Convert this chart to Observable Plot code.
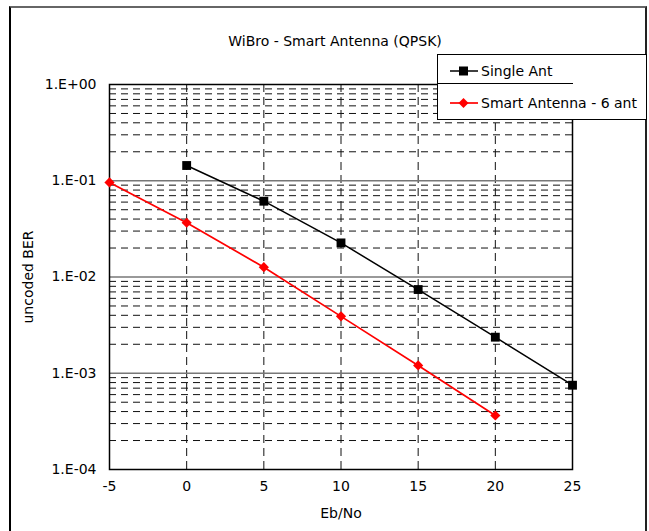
<!DOCTYPE html>
<html>
<head>
<meta charset="utf-8">
<script src="https://cdn.jsdelivr.net/npm/d3@7"></script>
<script src="https://cdn.jsdelivr.net/npm/@observablehq/plot@0.6"></script>
<style>
  html, body { margin: 0; padding: 0; background: #fff; }
  #wrap { position: relative; width: 649px; height: 531px; overflow: hidden; font-family: "DejaVu Sans", sans-serif; }
  #frame { position: absolute; left: 9px; top: 6px; width: 638px; height: 560px; border-left: 2px solid #000; border-right: 2px solid #222; border-top: 2px solid #666; box-sizing: border-box; pointer-events: none; }
  #title { position: absolute; left: 0; width: 670px; top: 33px; text-align: center; font-size: 14px; color: #000; }
  #legend { position: absolute; left: 437px; top: 54px; width: 210px; height: 66px; border: 1px solid #000; background: #fff; box-sizing: border-box; font-size: 14px; }
  .item { position: absolute; left: 12px; display: flex; align-items: center; }
  .item span { margin-left: 3px; }
  #topline { position: absolute; left: 437px; top: 83px; width: 136px; height: 0; border-top: 1.5px solid #000; }
  svg { position: absolute; left: 0; top: 0; }
</style>
</head>
<body>
<div id="wrap">
  <div id="plot"></div>
  <div id="frame"></div>
  <div id="title">WiBro - Smart Antenna (QPSK)</div>
  <div id="legend"></div>
  <div id="topline"></div>
</div>
<script>
const title = "WiBro - Smart Antenna (QPSK)";
const xLabel = "Eb/No";
const yLabel = "uncoded BER";
const seriesNames = ["Single Ant", "Smart Antenna - 6 ant"];
const seriesColors = ["#000000", "#ff0000"];
const singleEbNo = [0, 5, 10, 15, 20, 25];
const singleBER = [0.144, 0.0613, 0.0226, 0.00741, 0.00237, 0.000751];
const smartEbNo = [-5, 0, 5, 10, 15, 20];
const smartBER = [0.096, 0.0366, 0.01264, 0.0039, 0.001205, 0.000364];
const xTicks = [-5, 0, 5, 10, 15, 20, 25];
const xTickLabels = ["-5", "0", "5", "10", "15", "20", "25"];
const yTicks = [1, 0.1, 0.01, 0.001, 0.0001];
const yTickLabels = ["1.E+00", "1.E-01", "1.E-02", "1.E-03", "1.E-04"];
const xGrid = [0, 5, 10, 15, 20];
const majorGrid = [0.1, 0.01, 0.001];
const minorGrid = [];
for (const dec of [0.0001, 0.001, 0.01, 0.1]) for (let m = 2; m <= 9; m++) minorGrid.push(+(m * dec).toPrecision(3));

const single = singleEbNo.map((x, i) => ({x, y: singleBER[i]}));
const smart = smartEbNo.map((x, i) => ({x, y: smartBER[i]}));

const chart = Plot.plot({
  width: 649,
  height: 531,
  marginLeft: 109,
  marginRight: 77,
  marginTop: 84,
  marginBottom: 62,
  style: {fontFamily: "DejaVu Sans, sans-serif", fontSize: "14px", color: "#000", background: "transparent"},
  x: {domain: [-5, 25], ticks: xTicks, tickSize: 0, tickPadding: 12,
      tickFormat: d => xTickLabels[xTicks.indexOf(d)],
      label: xLabel, labelAnchor: "center", labelOffset: 48, labelArrow: "none"},
  y: {type: "log", domain: [0.0001, 1], ticks: yTicks, tickSize: 0, tickPadding: 13,
      tickFormat: d => yTickLabels[yTicks.findIndex(t => Math.abs(Math.log10(t) - Math.log10(d)) < 1e-6)],
      label: yLabel, labelAnchor: "center", labelOffset: 86, labelArrow: "none"},
  marks: [
    Plot.ruleY(minorGrid, {stroke: "#111", strokeWidth: 1, strokeDasharray: "7,5"}),
    Plot.ruleX(xGrid, {stroke: "#111", strokeWidth: 1, strokeDasharray: "8,5"}),
    Plot.ruleY(majorGrid, {stroke: "#777", strokeWidth: 1.5}),
    Plot.frame({stroke: "#000", strokeWidth: 1.5}),
    Plot.line(single, {x: "x", y: "y", stroke: seriesColors[0], strokeWidth: 1.5}),
    Plot.line(smart, {x: "x", y: "y", stroke: seriesColors[1], strokeWidth: 1.7}),
    Plot.dot(single, {x: "x", y: "y", symbol: "square", r: 5, fill: seriesColors[0], stroke: "none"}),
    Plot.dot(smart, {x: "x", y: "y", symbol: "diamond2", r: 4.6, fill: seriesColors[1], stroke: "none"})
  ]
});
document.getElementById("plot").appendChild(chart);

// legend
const legend = document.getElementById("legend");
const tops = [8, 40];
seriesNames.forEach((name, i) => {
  const item = document.createElement("div");
  item.className = "item";
  item.style.top = tops[i] + "px";
  const marker = i === 0
    ? `<rect x="9" y="3.5" width="9" height="9" fill="${seriesColors[0]}"/>`
    : `<path d="M13.5,3 L18.5,8 L13.5,13 L8.5,8 Z" fill="${seriesColors[1]}"/>`;
  item.innerHTML = `<svg width="28" height="16" style="position:static"><line x1="0" y1="8" x2="28" y2="8" stroke="${seriesColors[i]}" stroke-width="${i ? 1.7 : 1.5}"/>${marker}</svg><span>${name}</span>`;
  legend.appendChild(item);
});
</script>
</body>
</html>
